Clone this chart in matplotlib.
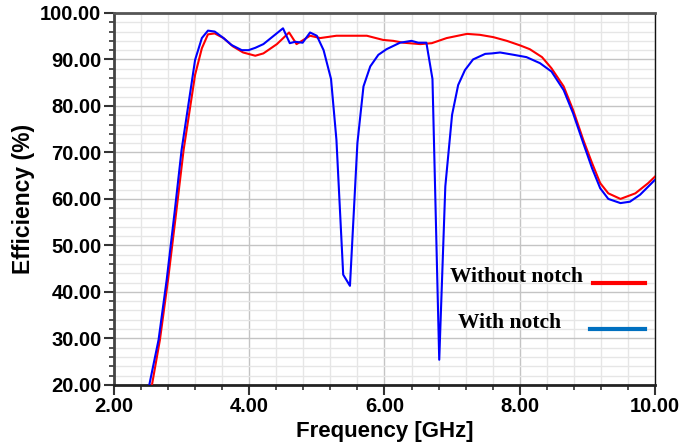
import numpy as np
import matplotlib
matplotlib.use('Agg')
import matplotlib.pyplot as plt
from matplotlib.ticker import MultipleLocator, FormatStrFormatter

# Efficiency without notch (red)
freq_no_notch = [2.48, 2.56, 2.68, 2.80, 2.92, 3.03, 3.20, 3.30, 3.39, 3.49, 3.62, 3.76,
                 3.91, 4.09, 4.21, 4.41, 4.59, 4.70, 4.78, 4.90, 5.05, 5.29, 5.49, 5.74,
                 5.98, 6.13, 6.28, 6.53, 6.70, 6.92, 7.22, 7.41, 7.61, 7.81, 8.01, 8.15,
                 8.33, 8.47, 8.65, 8.79, 8.94, 9.07, 9.19, 9.31, 9.49, 9.71, 9.90, 10.0]
eff_no_notch = [15.0, 19.8, 29.7, 42.6, 57.0, 70.5, 86.7, 92.4, 95.4, 95.6, 94.6, 92.8,
                91.5, 90.8, 91.3, 93.3, 95.8, 93.3, 94.0, 95.1, 94.6, 95.1, 95.1, 95.1,
                94.2, 94.0, 93.6, 93.3, 93.5, 94.6, 95.5, 95.3, 94.8, 94.0, 93.0, 92.2,
                90.5, 88.1, 84.2, 79.1, 72.7, 67.7, 63.4, 61.2, 60.0, 61.2, 63.4, 64.8]

# Efficiency with notch (blue)
freq_notch = [2.45, 2.52, 2.66, 2.78, 2.90, 3.00, 3.20, 3.30, 3.39, 3.49, 3.62, 3.74,
              3.89, 3.99, 4.09, 4.21, 4.50, 4.60, 4.68, 4.79, 4.90, 5.00, 5.10, 5.21,
              5.29, 5.39, 5.49, 5.60, 5.69, 5.79, 5.91, 6.03, 6.23, 6.40, 6.50, 6.62,
              6.71, 6.81, 6.90, 7.00, 7.09, 7.19, 7.31, 7.49, 7.59, 7.71, 7.91, 8.10,
              8.30, 8.47, 8.65, 8.79, 8.94, 9.07, 9.19, 9.31, 9.49, 9.63, 9.78, 10.0]
eff_notch = [15.0, 19.8, 29.7, 42.6, 57.5, 70.5, 89.9, 94.6, 96.2, 96.0, 94.6, 93.1,
             92.0, 92.0, 92.5, 93.3, 96.7, 93.5, 93.8, 93.6, 95.8, 95.1, 92.0, 85.8,
             72.7, 43.7, 41.3, 72.0, 84.2, 88.5, 91.0, 92.2, 93.6, 94.0, 93.6, 93.6,
             85.8, 25.4, 62.7, 78.1, 84.5, 87.7, 90.0, 91.2, 91.3, 91.5, 91.0, 90.5,
             89.2, 87.4, 83.4, 78.4, 72.0, 66.6, 62.3, 60.0, 59.1, 59.4, 60.9, 64.1]

fig = plt.figure(figsize=(6.99, 4.47), dpi=100)
ax = fig.add_axes([0.163, 0.139, 0.774, 0.832])

ax.plot(freq_no_notch, eff_no_notch, color='#ff0000', linewidth=1.5, zorder=3)
ax.plot(freq_notch, eff_notch, color='#0000ff', linewidth=1.5, zorder=4)

ax.set_xlim(2, 10)
ax.set_ylim(20, 100)

ax.xaxis.set_major_locator(MultipleLocator(2))
ax.xaxis.set_minor_locator(MultipleLocator(0.4))
ax.yaxis.set_major_locator(MultipleLocator(10))
ax.yaxis.set_minor_locator(MultipleLocator(2))
ax.xaxis.set_major_formatter(FormatStrFormatter('%.2f'))
ax.yaxis.set_major_formatter(FormatStrFormatter('%.2f'))

ax.grid(which='minor', color='#e6e6e6', linewidth=1.0, zorder=0)
ax.grid(which='major', color='#c4c4c4', linewidth=1.0, zorder=1)
ax.set_axisbelow(True)

ax.tick_params(which='major', direction='out', length=7, width=1.5, color='#333333',
               labelsize=14.5, pad=2)
ax.tick_params(which='minor', direction='out', length=3.5, width=1.2, color='#333333')
for lbl in ax.get_xticklabels() + ax.get_yticklabels():
    lbl.set_fontweight('bold')
    lbl.set_family('Liberation Sans')

ax.spines['top'].set_color('#555555')
ax.spines['top'].set_linewidth(2)
ax.spines['left'].set_color('#444444')
ax.spines['left'].set_linewidth(2)
ax.spines['bottom'].set_color('#222222')
ax.spines['bottom'].set_linewidth(2)
ax.spines['right'].set_color('#111111')
ax.spines['right'].set_linewidth(1)

ax.set_xlabel('Frequency [GHz]', fontsize=16, fontweight='bold', family='Liberation Sans', labelpad=3)
ax.set_ylabel('Efficiency (%)', fontsize=16.5, fontweight='bold', family='Liberation Sans', labelpad=4)

# hand-drawn style legend
ax.text(0.621, 0.29, 'Without notch', transform=ax.transAxes, fontsize=15.5,
        fontweight='bold', family='Liberation Serif', va='center', ha='left', zorder=5)
ax.plot([0.885, 0.982], [0.274, 0.274], transform=ax.transAxes, color='#ff0000', linewidth=3, zorder=5)
ax.text(0.636, 0.166, 'With notch', transform=ax.transAxes, fontsize=15.5,
        fontweight='bold', family='Liberation Serif', va='center', ha='left', zorder=5)
ax.plot([0.88, 0.982], [0.151, 0.151], transform=ax.transAxes, color='#0070c0', linewidth=3, zorder=5)

fig.savefig('out.png', dpi=100)
